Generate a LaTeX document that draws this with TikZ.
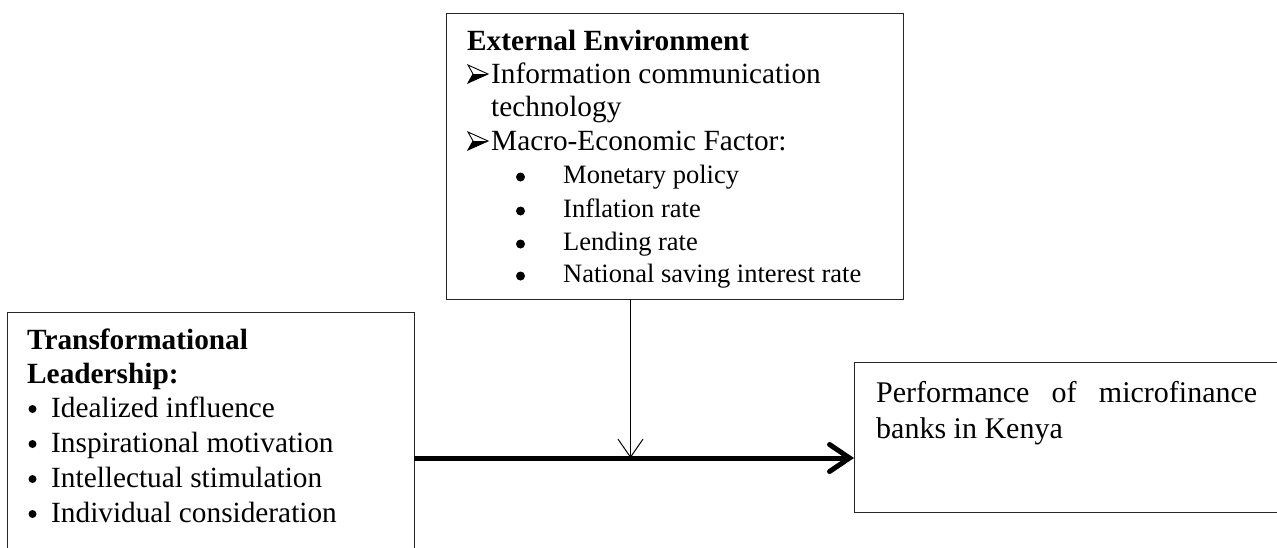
\documentclass[tikz,border=0pt]{standalone}
\usepackage{fontspec}
\setmainfont{Liberation Serif}
\usetikzlibrary{arrows.meta}
\tikzset{
  box/.style={draw=black!85, line width=1pt},
  txt/.style={anchor=base west, inner sep=0pt, font=\fontsize{29.3}{33}\selectfont},
  big/.style={anchor=base west, inner sep=0pt, font=\fontsize{30}{36}\selectfont},
  hd/.style={anchor=base west, inner sep=0pt, font=\fontsize{29.3}{33}\selectfont\bfseries},
  sub/.style={anchor=base west, inner sep=0pt, font=\fontsize{26.5}{33}\selectfont},
  dot/.style={circle, fill=black, inner sep=0pt, minimum size=8pt},
  mainarrow/.style={line width=5pt, -{Straight Barb[length=20pt,width=27pt,line cap=round]}},
  modarrow/.style={line width=1pt, -{Straight Barb[length=18pt,width=25pt]}},
  pics/ptr/.style={code={
    \fill[black] (0,18) -- (20,9) -- (5,9) -- cycle;
    \draw[line width=0.9pt, line join=miter] (0,0) -- (20,9) -- (0,18) -- (5,9) -- cycle;
  }}
}
\begin{document}
\begin{tikzpicture}[x=1pt,y=-1pt]
\clip (0,0) rectangle (1277,547);
\fill[white] (0,0) rectangle (1277,547);
% boxes
\draw[box] (446,13) rectangle (903,299);
\coordinate (extS) at (630.5,299);
\draw[box] (414,560) -- (414,312) -- (7,312) -- (7,560);
\draw[box] (1290,362) -- (854,362) -- (854,512) -- (1290,512);
\coordinate (depW) at (854,458);
\coordinate (indE) at (414,458);
\coordinate (mid) at (630.5,458);
% external environment text
\node[hd] (e0) at (467,50) {External Environment};
\pic at (468,65) {ptr};
\node[txt] (e1) at (491,83) {Information communication};
\node[txt] (e2) at (491,116) {technology};
\pic at (468,132) {ptr};
\node[txt] (e3) at (491,150) {Macro-Economic Factor:};
\node[dot, minimum size=9pt] (b1) at (520.5,177) {};
\node[sub] (s1) at (563,183) {Monetary policy};
\node[dot, minimum size=9pt] (b2) at (520.5,211) {};
\node[sub] (s2) at (563,217) {Inflation rate};
\node[dot, minimum size=9pt] (b3) at (520.5,244) {};
\node[sub] (s3) at (563,250) {Lending rate};
\node[dot, minimum size=9pt] (b4) at (520.5,276) {};
\node[sub] (s4) at (563,282) {National saving interest rate};
% transformational leadership
\node[hd] (t0) at (27,349) {Transformational};
\node[hd] (t1) at (27,383) {Leadership:};
\node[dot] (tb1) at (32.5,409) {};
\node[txt] (ti1) at (51,417) {Idealized influence};
\node[dot] (tb2) at (32.5,444) {};
\node[txt] (ti2) at (51,452) {Inspirational motivation};
\node[dot] (tb3) at (32.5,479) {};
\node[txt] (ti3) at (51,487) {Intellectual stimulation};
\node[dot] (tb4) at (32.5,514) {};
\node[txt] (ti4) at (51,522) {Individual consideration};
% performance
\node[big] (p1) at (876,402) {\hbox to 381pt{Performance\hfill of\hfill microfinance}};
\node[big] (p2) at (876,438) {banks in Kenya};
% arrows
\draw[mainarrow] (indE) -- (depW);
\draw[modarrow] (extS) -- (mid);
\end{tikzpicture}
\end{document}
